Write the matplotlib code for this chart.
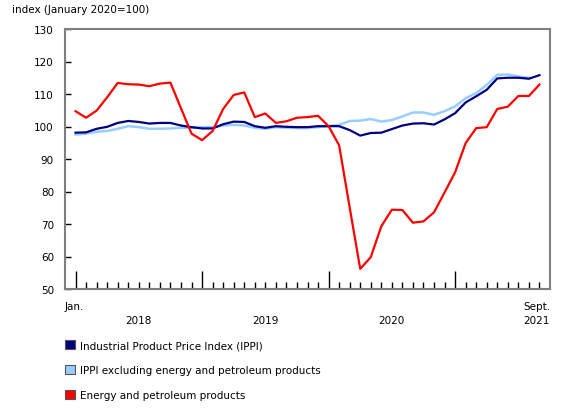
import matplotlib
matplotlib.use("Agg")
import matplotlib.pyplot as plt
from matplotlib.patches import Patch

# monthly values, Jan 2018 .. Sept 2021
ippi = [98.1, 98.2, 99.3, 99.9, 101.1, 101.7, 101.4, 100.9, 101.1, 101.1, 100.3, 99.8,
        99.4, 99.4, 100.7, 101.5, 101.4, 100.1, 99.6, 100.1, 99.9, 99.8, 99.8, 100.1,
        100.1, 100.1, 98.9, 97.2, 98.0, 98.1, 99.2, 100.3, 100.9, 101.0, 100.6, 102.2,
        104.1, 107.4, 109.3, 111.3, 114.8, 115.0, 115.0, 114.7, 115.8]
ippi_excl = [97.5, 97.8, 98.4, 98.6, 99.3, 100.1, 99.8, 99.3, 99.3, 99.4, 99.6, 99.6,
             99.8, 99.8, 100.3, 100.5, 100.3, 99.6, 99.3, 99.8, 99.6, 99.5, 99.5, 99.8,
             100.1, 100.5, 101.7, 101.8, 102.3, 101.5, 102.0, 103.1, 104.3, 104.3, 103.6, 104.7,
             106.2, 108.7, 110.3, 112.8, 115.9, 116.0, 115.4, 115.0]
energy = [104.7, 102.7, 104.9, 109.0, 113.4, 113.0, 112.9, 112.4, 113.2, 113.5, 105.6, 97.8,
          95.8, 98.6, 105.4, 109.7, 110.5, 102.9, 104.0, 101.1, 101.6, 102.7, 102.9, 103.3,
          100.1, 94.2, 75.1, 56.2, 59.8, 69.3, 74.4, 74.3, 70.4, 70.8, 73.6, 79.7,
          85.9, 94.9, 99.5, 99.8, 105.4, 106.1, 109.4, 109.4, 112.9]

series_names = ["Industrial Product Price Index (IPPI)",
                "IPPI excluding energy and petroleum products",
                "Energy and petroleum products"]
colors = ["#000080", "#99ccff", "#ff0000"]
years = ["2018", "2019", "2020", "2021"]

fig = plt.figure(figsize=(5.8, 4.1), dpi=100)
ax = fig.add_axes([65/580, 1-290/410, 485/580, 260/410])

ax.plot(range(len(ippi_excl)), ippi_excl, color=colors[1], lw=1.8, zorder=2)
ax.plot(range(len(ippi)), ippi, color=colors[0], lw=1.6, zorder=3)
ax.plot(range(len(energy)), energy, color=colors[2], lw=1.6, zorder=4)

ax.set_xlim(-1, 45)
ax.set_ylim(50, 130)
ax.set_yticks(range(50, 131, 10))
ax.tick_params(axis="y", direction="in", length=4, width=1, labelsize=7.5, pad=8)

ax.set_xticks(range(0, 45, 12))
ax.set_xticks(range(45), minor=True)
ax.tick_params(axis="x", which="major", direction="in", length=13, width=1, labelbottom=False)
ax.tick_params(axis="x", which="minor", direction="in", length=5, width=1)

for s in ax.spines.values():
    s.set_color("#7f7f7f")
    s.set_linewidth(1.5)

fs = 7.5
tr = ax.get_xaxis_transform()
ax.text(-1, -0.065, "Jan.", transform=tr, ha="left", va="center", fontsize=fs)
ax.text(45, -0.065, "Sept.", transform=tr, ha="right", va="center", fontsize=fs)
for k, y in enumerate(years[:-1]):
    ax.text(6 + 12 * k, -0.12, y, transform=tr, ha="center", va="center", fontsize=fs)
ax.text(45, -0.12, years[-1], transform=tr, ha="right", va="center", fontsize=fs)

fig.text(12/580, 1-10/410, "index (January 2020=100)", ha="left", va="center", fontsize=fs)

handles = [Patch(facecolor=c, edgecolor="#555555", linewidth=0.8) for c in colors]
fig.legend(handles, series_names, loc="upper left", bbox_to_anchor=(56/580, 1-332/410),
           frameon=False, fontsize=fs, handlelength=0.95, handleheight=0.95,
           handletextpad=0.45, labelspacing=1.4)

fig.savefig("out.png", dpi=100)
